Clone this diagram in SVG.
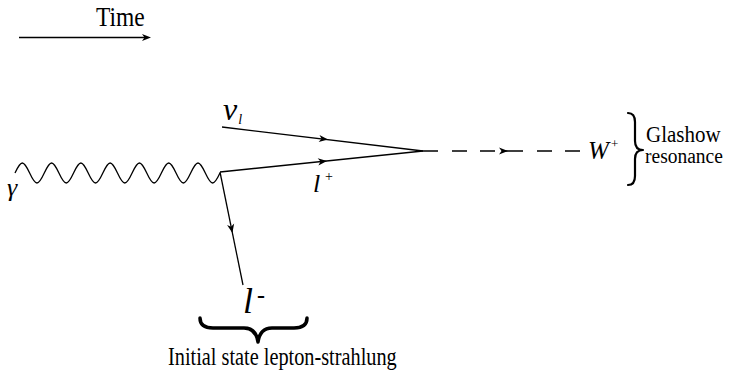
<svg xmlns="http://www.w3.org/2000/svg" width="754" height="372" viewBox="0 0 754 372">
<style>
.ln{fill:none;stroke:#000;stroke-width:1.3;stroke-linecap:butt}
.ah{fill:#000;stroke:none}
.t{font-family:"Liberation Serif","DejaVu Serif","Times New Roman",serif;fill:#000}
.it{font-style:italic}
.br{fill:none;stroke:#000;stroke-linejoin:round;stroke-linecap:round}
</style>
<defs>
<path id="ah" d="M0,0 L-9,-3.6 L-6.5,0 L-9,3.6 Z"/>
</defs>
<rect width="754" height="372" fill="#fff"/>
<g id="time-arrow">
<line class="ln" x1="19" y1="37.5" x2="146" y2="37.5" style="stroke-width:1.5"/>
<use href="#ah" class="ah" transform="translate(151,37.5)"/>
<text class="t" transform="translate(96,26) scale(1,1.15)" font-size="23.5">Time</text>
</g>
<g id="connectors">
<path class="ln" d="M15,173 c2.39,-5.12 4.67,-10 7.32,-10 c2.65,0 4.93,4.88 7.32,10 c2.39,5.12 4.67,10 7.32,10 c2.65,0 4.93,-4.88 7.32,-10 c2.39,-5.12 4.67,-10 7.32,-10 c2.65,0 4.93,4.88 7.32,10 c2.39,5.12 4.67,10 7.32,10 c2.65,0 4.93,-4.88 7.32,-10 c2.39,-5.12 4.67,-10 7.32,-10 c2.65,0 4.93,4.88 7.32,10 c2.39,5.12 4.67,10 7.32,10 c2.65,0 4.93,-4.88 7.32,-10 c2.39,-5.12 4.67,-10 7.32,-10 c2.65,0 4.93,4.88 7.32,10 c2.39,5.12 4.67,10 7.32,10 c2.65,0 4.93,-4.88 7.32,-10 c2.39,-5.12 4.67,-10 7.32,-10 c2.65,0 4.93,4.88 7.32,10 c2.39,5.12 4.67,10 7.32,10 c2.65,0 4.93,-4.88 7.32,-10 c2.39,-5.12 4.67,-10 7.32,-10 c2.65,0 4.93,4.88 7.32,10 c2.39,5.12 4.67,10 7.32,10 c2.65,0 4.93,-4.88 7.32,-10 c2.39,-5.12 4.67,-10 7.32,-10 c2.65,0 4.93,4.88 7.32,10 c2.39,5.12 4.67,10 7.32,10 c2.65,0 4.93,-4.88 7.32,-10"/>
<line class="ln" x1="222" y1="127" x2="423" y2="151"/>
<use href="#ah" class="ah" transform="translate(328,139.6) rotate(6.8)"/>
<line class="ln" x1="220" y1="172" x2="423" y2="151"/>
<use href="#ah" class="ah" transform="translate(327,160.9) rotate(-5.9)"/>
<line class="ln" x1="220" y1="172" x2="243" y2="285"/>
<use href="#ah" class="ah" transform="translate(232.4,233) rotate(78.5)"/>
<path class="ln" d="M423,151 H438 M452,151 H467 M480,151 H495 M502,151 H523 M537,151 H552 M565,151 H580"/>
<use href="#ah" class="ah" transform="translate(508,151)"/>
</g>
<g id="photon">
<text class="t it" x="7" y="196" font-size="26">γ</text>
</g>
<g id="neutrino">
<text class="t it" x="223" y="120" font-size="32">v<tspan font-size="14" dx="1" dy="4">l</tspan></text>
</g>
<g id="lepton-plus">
<text class="t it" x="313" y="192" font-size="26">l<tspan font-style="normal" font-size="14" x="325" y="181">+</tspan></text>
</g>
<g id="lepton-minus">
<text class="t it" x="243" y="313" font-size="36">l<tspan font-style="normal" font-weight="bold" font-size="24" x="257" y="303">-</tspan></text>
</g>
<g id="w-boson">
<text class="t it" x="588" y="159" font-size="25">W<tspan font-style="normal" font-size="13" x="611" y="148">+</tspan></text>
</g>
<g id="glashow-label">
<path class="br" style="stroke-width:2.2" d="M628,113 Q635,113 635,122 L635,141 Q635,150 643,150 Q635,150 635,159 L635,176 Q635,185 628,185"/>
<text class="t" transform="translate(646,142) scale(1,1.12)" font-size="21">Glashow</text>
<text class="t" transform="translate(645,163) scale(1,1.12)" font-size="19.5">resonance</text>
</g>
<g id="isr-label">
<path class="br" style="stroke-width:3.5" d="M200,318 Q200,328 213,328 L244,328 Q256,328 258,342 Q260,328 272,328 L294,328 Q307,328 307,318"/>
<text class="t" transform="translate(168,365) scale(1,1.2)" font-size="20.3">Initial state lepton-strahlung</text>
</g>
</svg>
